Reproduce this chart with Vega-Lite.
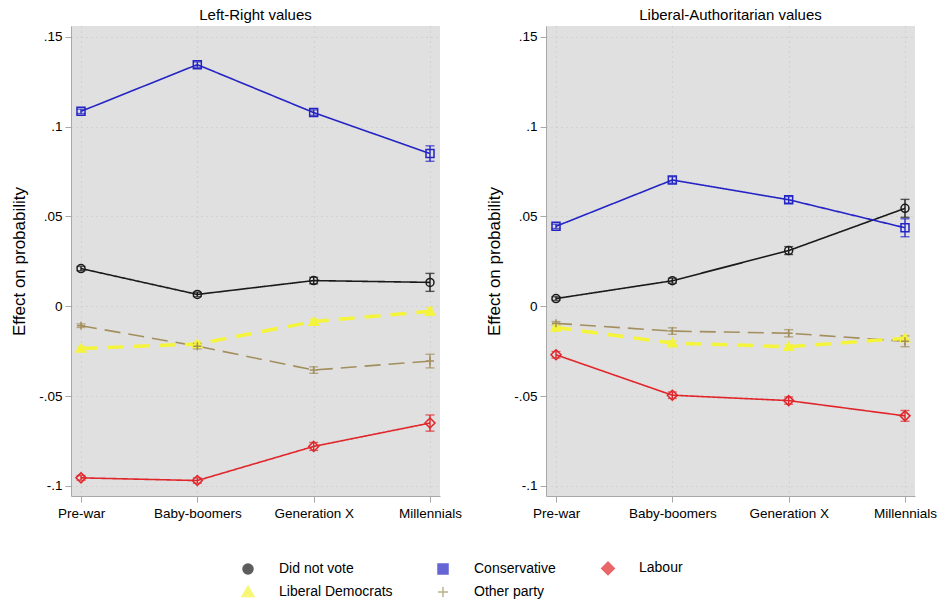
{
  "$schema": "https://vega.github.io/schema/vega-lite/v6.json",
  "background": "white",
  "padding": {"left": 10, "top": 8, "right": 5, "bottom": 5},
  "config": {
    "font": "Liberation Sans",
    "view": {"fill": "#e0e0e0", "stroke": null},
    "axis": {"labelFont": "Liberation Sans", "labelColor": "#000", "labelFontSize": 13.5, "titleFont": "Liberation Sans", "titleFontWeight": "normal", "titleColor": "#000", "domainColor": "#a8a8a8", "tickColor": "#a8a8a8", "tickSize": 6, "grid": true, "gridColor": "#c6c6c6", "gridDash": [1, 4], "gridWidth": 1.2}
  },
  "data": {"values": [
    {"panel": "Left-Right values", "cohort": "Pre-war", "party": "Did not vote", "est": 0.021, "lo": 0.0198, "hi": 0.0222},
    {"panel": "Left-Right values", "cohort": "Baby-boomers", "party": "Did not vote", "est": 0.0066, "lo": 0.0054, "hi": 0.0078},
    {"panel": "Left-Right values", "cohort": "Generation X", "party": "Did not vote", "est": 0.0143, "lo": 0.0125, "hi": 0.0161},
    {"panel": "Left-Right values", "cohort": "Millennials", "party": "Did not vote", "est": 0.0133, "lo": 0.0083, "hi": 0.0183},
    {"panel": "Left-Right values", "cohort": "Pre-war", "party": "Conservative", "est": 0.1085, "lo": 0.1073, "hi": 0.1097},
    {"panel": "Left-Right values", "cohort": "Baby-boomers", "party": "Conservative", "est": 0.1345, "lo": 0.133, "hi": 0.136},
    {"panel": "Left-Right values", "cohort": "Generation X", "party": "Conservative", "est": 0.1078, "lo": 0.1063, "hi": 0.1093},
    {"panel": "Left-Right values", "cohort": "Millennials", "party": "Conservative", "est": 0.085, "lo": 0.0807, "hi": 0.0893},
    {"panel": "Left-Right values", "cohort": "Pre-war", "party": "Labour", "est": -0.0955, "lo": -0.0968, "hi": -0.0942},
    {"panel": "Left-Right values", "cohort": "Baby-boomers", "party": "Labour", "est": -0.097, "lo": -0.0985, "hi": -0.0955},
    {"panel": "Left-Right values", "cohort": "Generation X", "party": "Labour", "est": -0.078, "lo": -0.0802, "hi": -0.0758},
    {"panel": "Left-Right values", "cohort": "Millennials", "party": "Labour", "est": -0.065, "lo": -0.0695, "hi": -0.0605},
    {"panel": "Left-Right values", "cohort": "Pre-war", "party": "Liberal Democrats", "est": -0.0235, "lo": -0.0245, "hi": -0.0225},
    {"panel": "Left-Right values", "cohort": "Baby-boomers", "party": "Liberal Democrats", "est": -0.021, "lo": -0.0222, "hi": -0.0198},
    {"panel": "Left-Right values", "cohort": "Generation X", "party": "Liberal Democrats", "est": -0.0085, "lo": -0.0097, "hi": -0.0073},
    {"panel": "Left-Right values", "cohort": "Millennials", "party": "Liberal Democrats", "est": -0.0028, "lo": -0.0048, "hi": -0.0008},
    {"panel": "Left-Right values", "cohort": "Pre-war", "party": "Other party", "est": -0.0108, "lo": -0.0118, "hi": -0.0098},
    {"panel": "Left-Right values", "cohort": "Baby-boomers", "party": "Other party", "est": -0.0222, "lo": -0.0237, "hi": -0.0207},
    {"panel": "Left-Right values", "cohort": "Generation X", "party": "Other party", "est": -0.0355, "lo": -0.0373, "hi": -0.0337},
    {"panel": "Left-Right values", "cohort": "Millennials", "party": "Other party", "est": -0.0305, "lo": -0.0343, "hi": -0.0267},
    {"panel": "Liberal-Authoritarian values", "cohort": "Pre-war", "party": "Did not vote", "est": 0.0043, "lo": 0.0033, "hi": 0.0053},
    {"panel": "Liberal-Authoritarian values", "cohort": "Baby-boomers", "party": "Did not vote", "est": 0.0142, "lo": 0.0128, "hi": 0.0156},
    {"panel": "Liberal-Authoritarian values", "cohort": "Generation X", "party": "Did not vote", "est": 0.031, "lo": 0.0288, "hi": 0.0332},
    {"panel": "Liberal-Authoritarian values", "cohort": "Millennials", "party": "Did not vote", "est": 0.0545, "lo": 0.0495, "hi": 0.0595},
    {"panel": "Liberal-Authoritarian values", "cohort": "Pre-war", "party": "Conservative", "est": 0.0445, "lo": 0.0433, "hi": 0.0457},
    {"panel": "Liberal-Authoritarian values", "cohort": "Baby-boomers", "party": "Conservative", "est": 0.0703, "lo": 0.0685, "hi": 0.0721},
    {"panel": "Liberal-Authoritarian values", "cohort": "Generation X", "party": "Conservative", "est": 0.0593, "lo": 0.0575, "hi": 0.0611},
    {"panel": "Liberal-Authoritarian values", "cohort": "Millennials", "party": "Conservative", "est": 0.0437, "lo": 0.0387, "hi": 0.0487},
    {"panel": "Liberal-Authoritarian values", "cohort": "Pre-war", "party": "Labour", "est": -0.027, "lo": -0.0288, "hi": -0.0252},
    {"panel": "Liberal-Authoritarian values", "cohort": "Baby-boomers", "party": "Labour", "est": -0.0495, "lo": -0.0513, "hi": -0.0477},
    {"panel": "Liberal-Authoritarian values", "cohort": "Generation X", "party": "Labour", "est": -0.0525, "lo": -0.0545, "hi": -0.0505},
    {"panel": "Liberal-Authoritarian values", "cohort": "Millennials", "party": "Labour", "est": -0.061, "lo": -0.064, "hi": -0.058},
    {"panel": "Liberal-Authoritarian values", "cohort": "Pre-war", "party": "Liberal Democrats", "est": -0.0118, "lo": -0.0128, "hi": -0.0108},
    {"panel": "Liberal-Authoritarian values", "cohort": "Baby-boomers", "party": "Liberal Democrats", "est": -0.0205, "lo": -0.0217, "hi": -0.0193},
    {"panel": "Liberal-Authoritarian values", "cohort": "Generation X", "party": "Liberal Democrats", "est": -0.0225, "lo": -0.0235, "hi": -0.0215},
    {"panel": "Liberal-Authoritarian values", "cohort": "Millennials", "party": "Liberal Democrats", "est": -0.0178, "lo": -0.0193, "hi": -0.0163},
    {"panel": "Liberal-Authoritarian values", "cohort": "Pre-war", "party": "Other party", "est": -0.0095, "lo": -0.0105, "hi": -0.0085},
    {"panel": "Liberal-Authoritarian values", "cohort": "Baby-boomers", "party": "Other party", "est": -0.0138, "lo": -0.0156, "hi": -0.012},
    {"panel": "Liberal-Authoritarian values", "cohort": "Generation X", "party": "Other party", "est": -0.015, "lo": -0.017, "hi": -0.013},
    {"panel": "Liberal-Authoritarian values", "cohort": "Millennials", "party": "Other party", "est": -0.0195, "lo": -0.0225, "hi": -0.0165}
  ]},
  "facet": {
    "column": {"field": "panel", "type": "nominal", "sort": ["Left-Right values", "Liberal-Authoritarian values"],
      "header": {"title": null, "labelFont": "Liberation Sans", "labelFontSize": 15, "labelColor": "#000", "labelPadding": 3}}
  },
  "spacing": 23,
  "resolve": {"axis": {"y": "independent", "x": "independent"}},
  "spec": {
    "width": 369,
    "height": 470,
    "encoding": {
      "x": {"field": "cohort", "type": "ordinal", "sort": ["Pre-war", "Baby-boomers", "Generation X", "Millennials"],
        "scale": {"type": "point", "padding": 0.086},
        "axis": {"title": null, "labelAngle": 0, "labelPadding": 4, "domain": true},
        "title": null},
      "y": {"field": "est", "type": "quantitative", "title": "Effect on probability",
        "scale": {"domain": [-0.1056, 0.156], "nice": false, "zero": false},
        "axis": {"values": [-0.1, -0.05, 0, 0.05, 0.1, 0.15], "labelExpr": "datum.value == 0 ? '0' : replace(replace(format(datum.value, '.2~f'), '0.', '.'), '\u2212', '-')", "titleFontSize": 17, "titlePadding": 10, "labelPadding": 3}},
      "color": {"field": "party", "type": "nominal",
        "scale": {"domain": ["Did not vote", "Conservative", "Labour", "Liberal Democrats", "Other party"], "range": ["#1a1a1a", "#2424c4", "#e0262b", "#f4f43c", "#a38f5e"]},
        "legend": {"title": null, "orient": "none", "legendX": 170, "legendY": 535, "columns": 3, "direction": "horizontal", "labelFontSize": 14, "labelFont": "Liberation Sans", "labelColor": "#000", "symbolSize": 100, "symbolStrokeWidth": 1.5, "labelOffset": 24, "columnPadding": 42, "rowPadding": 5}}
    },
    "layer": [
      {"mark": {"type": "rule", "color": "#8a8a8a", "strokeDash": [6, 4], "strokeWidth": 1.5}, "encoding": {"y": {"datum": 0}, "color": {"value": "#8a8a8a"}}},
      {"transform": [{"filter": "datum.party != 'Liberal Democrats'"}],
        "mark": {"type": "line", "strokeWidth": 1.6},
        "encoding": {
          "strokeDash": {"field": "party", "type": "nominal", "legend": null, "scale": {"domain": ["Did not vote", "Conservative", "Labour", "Other party"], "range": [[1, 0], [1, 0], [1, 0], [16, 8]]}}
        }},
      {"transform": [{"filter": "datum.party == 'Liberal Democrats'"}],
        "mark": {"type": "line", "strokeWidth": 3.5, "strokeDash": [16, 10]}},
      {"mark": {"type": "errorbar", "ticks": {"size": 9}, "thickness": 1.4},
        "encoding": {
          "y": {"field": "lo", "type": "quantitative", "title": "Effect on probability"},
          "y2": {"field": "hi"}
        }},
      {"mark": {"type": "point", "size": 64, "strokeWidth": 1.5, "opacity": 1},
        "encoding": {
          "shape": {"field": "party", "type": "nominal", "legend": null, "scale": {"domain": ["Did not vote", "Conservative", "Labour", "Liberal Democrats", "Other party"], "range": ["M-1,0A1,1 0 1,0 1,0A1,1 0 1,0 -1,0Z", "M-1,-1H1V1H-1Z", "M0,-1.25L1.25,0L0,1.25L-1.25,0Z", "M0,-1.1L1.2,0.9H-1.2Z", "M-1,0H1M0,-1V1"]}},
          "fill": {"field": "party", "type": "nominal", "legend": null, "scale": {"domain": ["Did not vote", "Conservative", "Labour", "Liberal Democrats", "Other party"], "range": ["rgba(0,0,0,0)", "rgba(0,0,0,0)", "rgba(0,0,0,0)", "#f4f43c", "rgba(0,0,0,0)"]}}
        }}
    ]
  }
}
